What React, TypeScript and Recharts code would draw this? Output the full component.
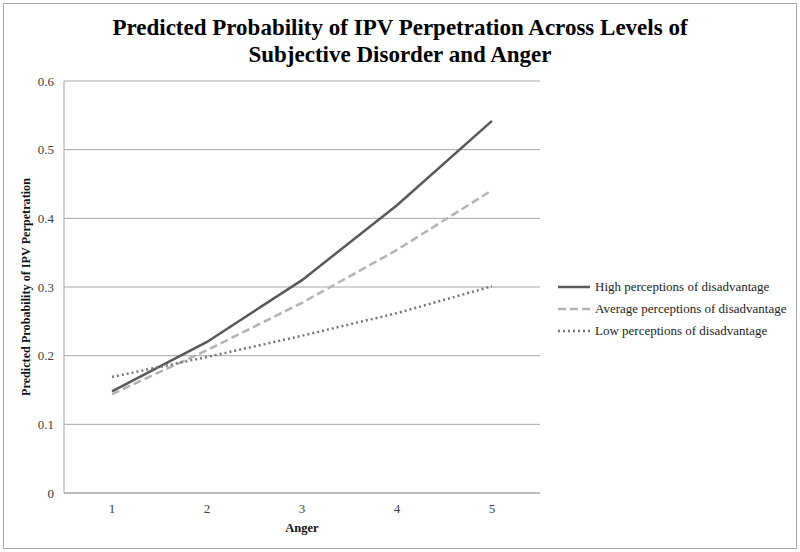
import { LineChart, Line, XAxis, YAxis, CartesianGrid } from "recharts";

const anger = ["1", "2", "3", "4", "5"];
const high = [0.148, 0.22, 0.31, 0.419, 0.542];
const average = [0.144, 0.208, 0.277, 0.354, 0.441];
const low = [0.169, 0.198, 0.229, 0.262, 0.301];
const yTicks = [0, 0.1, 0.2, 0.3, 0.4, 0.5, 0.6];

const series = [
  { key: "high", name: "High perceptions of disadvantage", color: "#595959", dash: undefined },
  { key: "average", name: "Average perceptions of disadvantage", color: "#b3b3b3", dash: "8 4" },
  { key: "low", name: "Low perceptions of disadvantage", color: "#767676", dash: "2 3" },
];

const data = anger.map((a, i) => ({ anger: a, high: high[i], average: average[i], low: low[i] }));

const serif = "'Liberation Serif', 'Times New Roman', serif";

// legend drawn outside the chart so it doesn't eat plot space
function LegendBox() {
  return (
    <div style={{ position: "absolute", left: 557, top: 276, fontFamily: serif, fontSize: 13, color: "#222" }}>
      {series.map((s) => (
        <div key={s.key} style={{ display: "flex", alignItems: "center", height: 22 }}>
          <svg width={34} height={10} style={{ marginRight: 4 }}>
            <line x1={1} y1={5} x2={33} y2={5} stroke={s.color} strokeWidth={2.5} strokeDasharray={s.dash} />
          </svg>
          <span>{s.name}</span>
        </div>
      ))}
    </div>
  );
}

export default function App() {
  return (
    <div style={{ position: "absolute", left: 0, top: 0, width: 800, height: 552, background: "#fff" }}>
      <div
        style={{
          position: "absolute",
          left: 3,
          top: 3,
          width: 792,
          height: 544,
          border: "1px solid #a8a8a8",
          pointerEvents: "none",
        }}
      />
      <div
        style={{
          position: "absolute",
          left: 0,
          top: 14,
          width: 800,
          textAlign: "center",
          fontFamily: serif,
          fontWeight: "bold",
          fontSize: 23,
          lineHeight: "27px",
          color: "#000",
        }}
      >
        Predicted Probability of IPV Perpetration Across Levels of
        <br />
        Subjective Disorder and Anger
      </div>
      <LineChart width={800} height={552} data={data} margin={{ top: 81, right: 260, bottom: 29, left: 0 }}>
        <CartesianGrid vertical={false} stroke="#a6a6a6" />
        <XAxis
          dataKey="anger"
          padding={{ left: 48, right: 48 }}
          tickLine={false}
          axisLine={{ stroke: "#a6a6a6" }}
          tick={{ fontFamily: serif, fontSize: 13, fill: "#404040", stroke: "none" }}
          tickMargin={5}
          height={30}
          label={{
            value: "Anger",
            position: "insideBottom",
            offset: -9,
            style: { fontFamily: serif, fontSize: 12.5, fontWeight: "bold", fill: "#111" },
          }}
        />
        <YAxis
          domain={[0, 0.6]}
          ticks={yTicks}
          width={64}
          tickLine={false}
          axisLine={{ stroke: "#a6a6a6" }}
          tick={{ fontFamily: serif, fontSize: 13, fill: "#404040", stroke: "none" }}
          tickMargin={4}
          label={{
            value: "Predicted Probability of IPV Perpetration",
            angle: -90,
            position: "insideLeft",
            offset: 26,
            style: { fontFamily: serif, fontSize: 12.2, fontWeight: "bold", fill: "#111", textAnchor: "middle" },
          }}
        />
        {series.map((s) => (
          <Line
            key={s.key}
            dataKey={s.key}
            name={s.name}
            stroke={s.color}
            strokeWidth={2.5}
            strokeDasharray={s.dash}
            dot={false}
            isAnimationActive={false}
          />
        ))}
      </LineChart>
      <LegendBox />
    </div>
  );
}
